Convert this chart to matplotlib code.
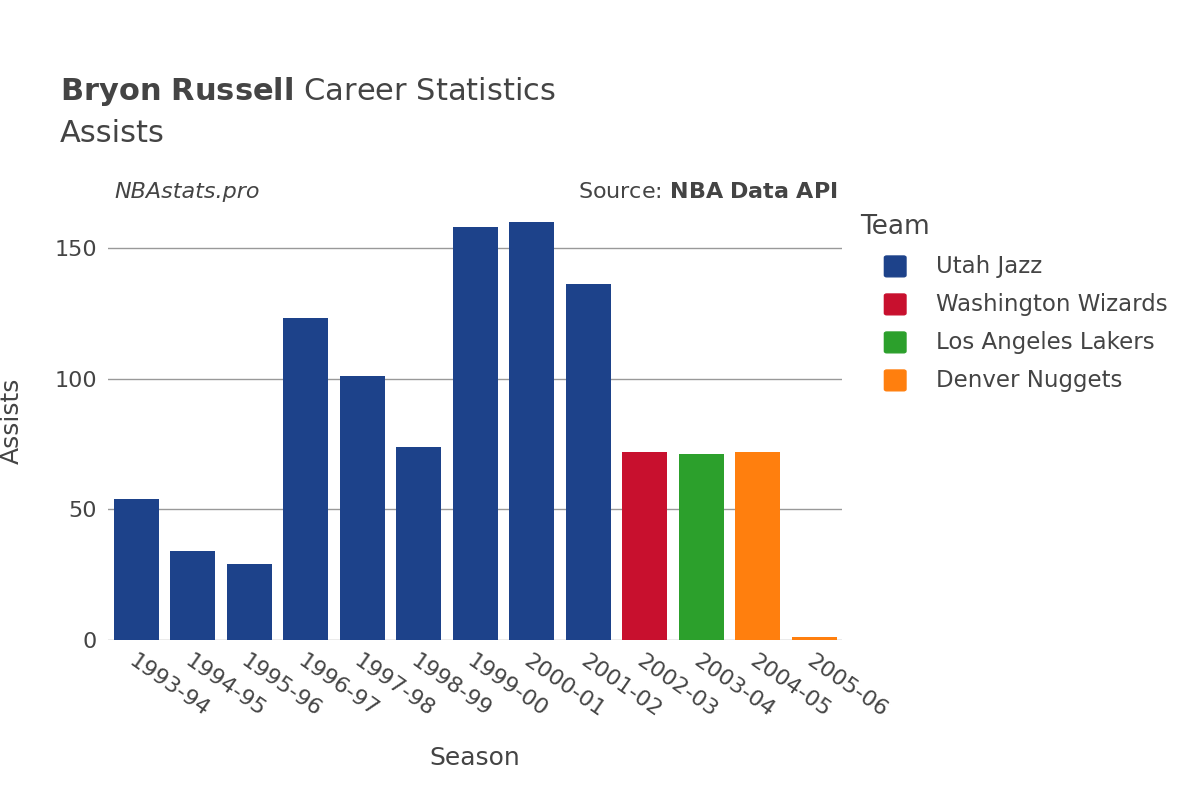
import matplotlib
matplotlib.use("Agg")
import matplotlib.pyplot as plt

seasons = ["1993-94","1994-95","1995-96","1996-97","1997-98","1998-99","1999-00",
           "2000-01","2001-02","2002-03","2003-04","2004-05","2005-06"]
assists = [54, 34, 29, 123, 101, 74, 158, 160, 136, 72, 71, 72, 1]
teams = ["Utah Jazz"]*9 + ["Washington Wizards", "Los Angeles Lakers", "Denver Nuggets", "Denver Nuggets"]
team_order = ["Utah Jazz", "Washington Wizards", "Los Angeles Lakers", "Denver Nuggets"]
team_colors = {"Utah Jazz": "#1d428a", "Washington Wizards": "#c8102e",
               "Los Angeles Lakers": "#2ca02c", "Denver Nuggets": "#ff7f0e"}

fig = plt.figure(figsize=(12, 8), dpi=100)
ax = fig.add_axes([0.09, 0.2, 0.612, 0.549])
x = list(range(len(seasons)))
ax.bar(x, assists, width=0.8, color=[team_colors[t] for t in teams], zorder=3)
ax.set_xlim(-0.5, len(seasons) - 0.5)
ax.set_ylim(0, 168)
ax.set_yticks([0, 50, 100, 150])
ax.grid(axis="y", color="#999999", linewidth=1, zorder=0)
for s in ax.spines.values():
    s.set_visible(False)
ax.tick_params(length=0, labelsize=16, colors="#444444", pad=8)
ax.set_xticks(x)
ax.set_xticklabels(seasons, rotation=-35, ha="left", rotation_mode="anchor")
ax.set_xlabel("Season", fontsize=18, color="#444444", labelpad=18)
ax.set_ylabel("Assists", fontsize=18, color="#444444", labelpad=22)

fig.text(0.05, 0.875, r"$\bf{Bryon\ Russell}$ Career Statistics", fontsize=22, color="#444444")
fig.text(0.05, 0.822, "Assists", fontsize=22, color="#444444")
fig.text(0.095, 0.752, "NBAstats.pro", fontsize=16, style="italic", color="#444444")
fig.text(0.698, 0.752, r"Source: $\bf{NBA\ Data\ API}$", fontsize=16, color="#444444", ha="right")

fig.text(0.717, 0.708, "Team", fontsize=19, color="#444444")
for i, t in enumerate(team_order):
    y = 0.667 - i * 0.0475
    fig.patches.append(matplotlib.patches.FancyBboxPatch((0.739, y - 0.011), 0.014, 0.022,
        boxstyle="round,pad=0.002", transform=fig.transFigure, color=team_colors[t], figure=fig))
    fig.text(0.78, y, t, fontsize=16.5, color="#444444", va="center")

fig.savefig("out.png")
